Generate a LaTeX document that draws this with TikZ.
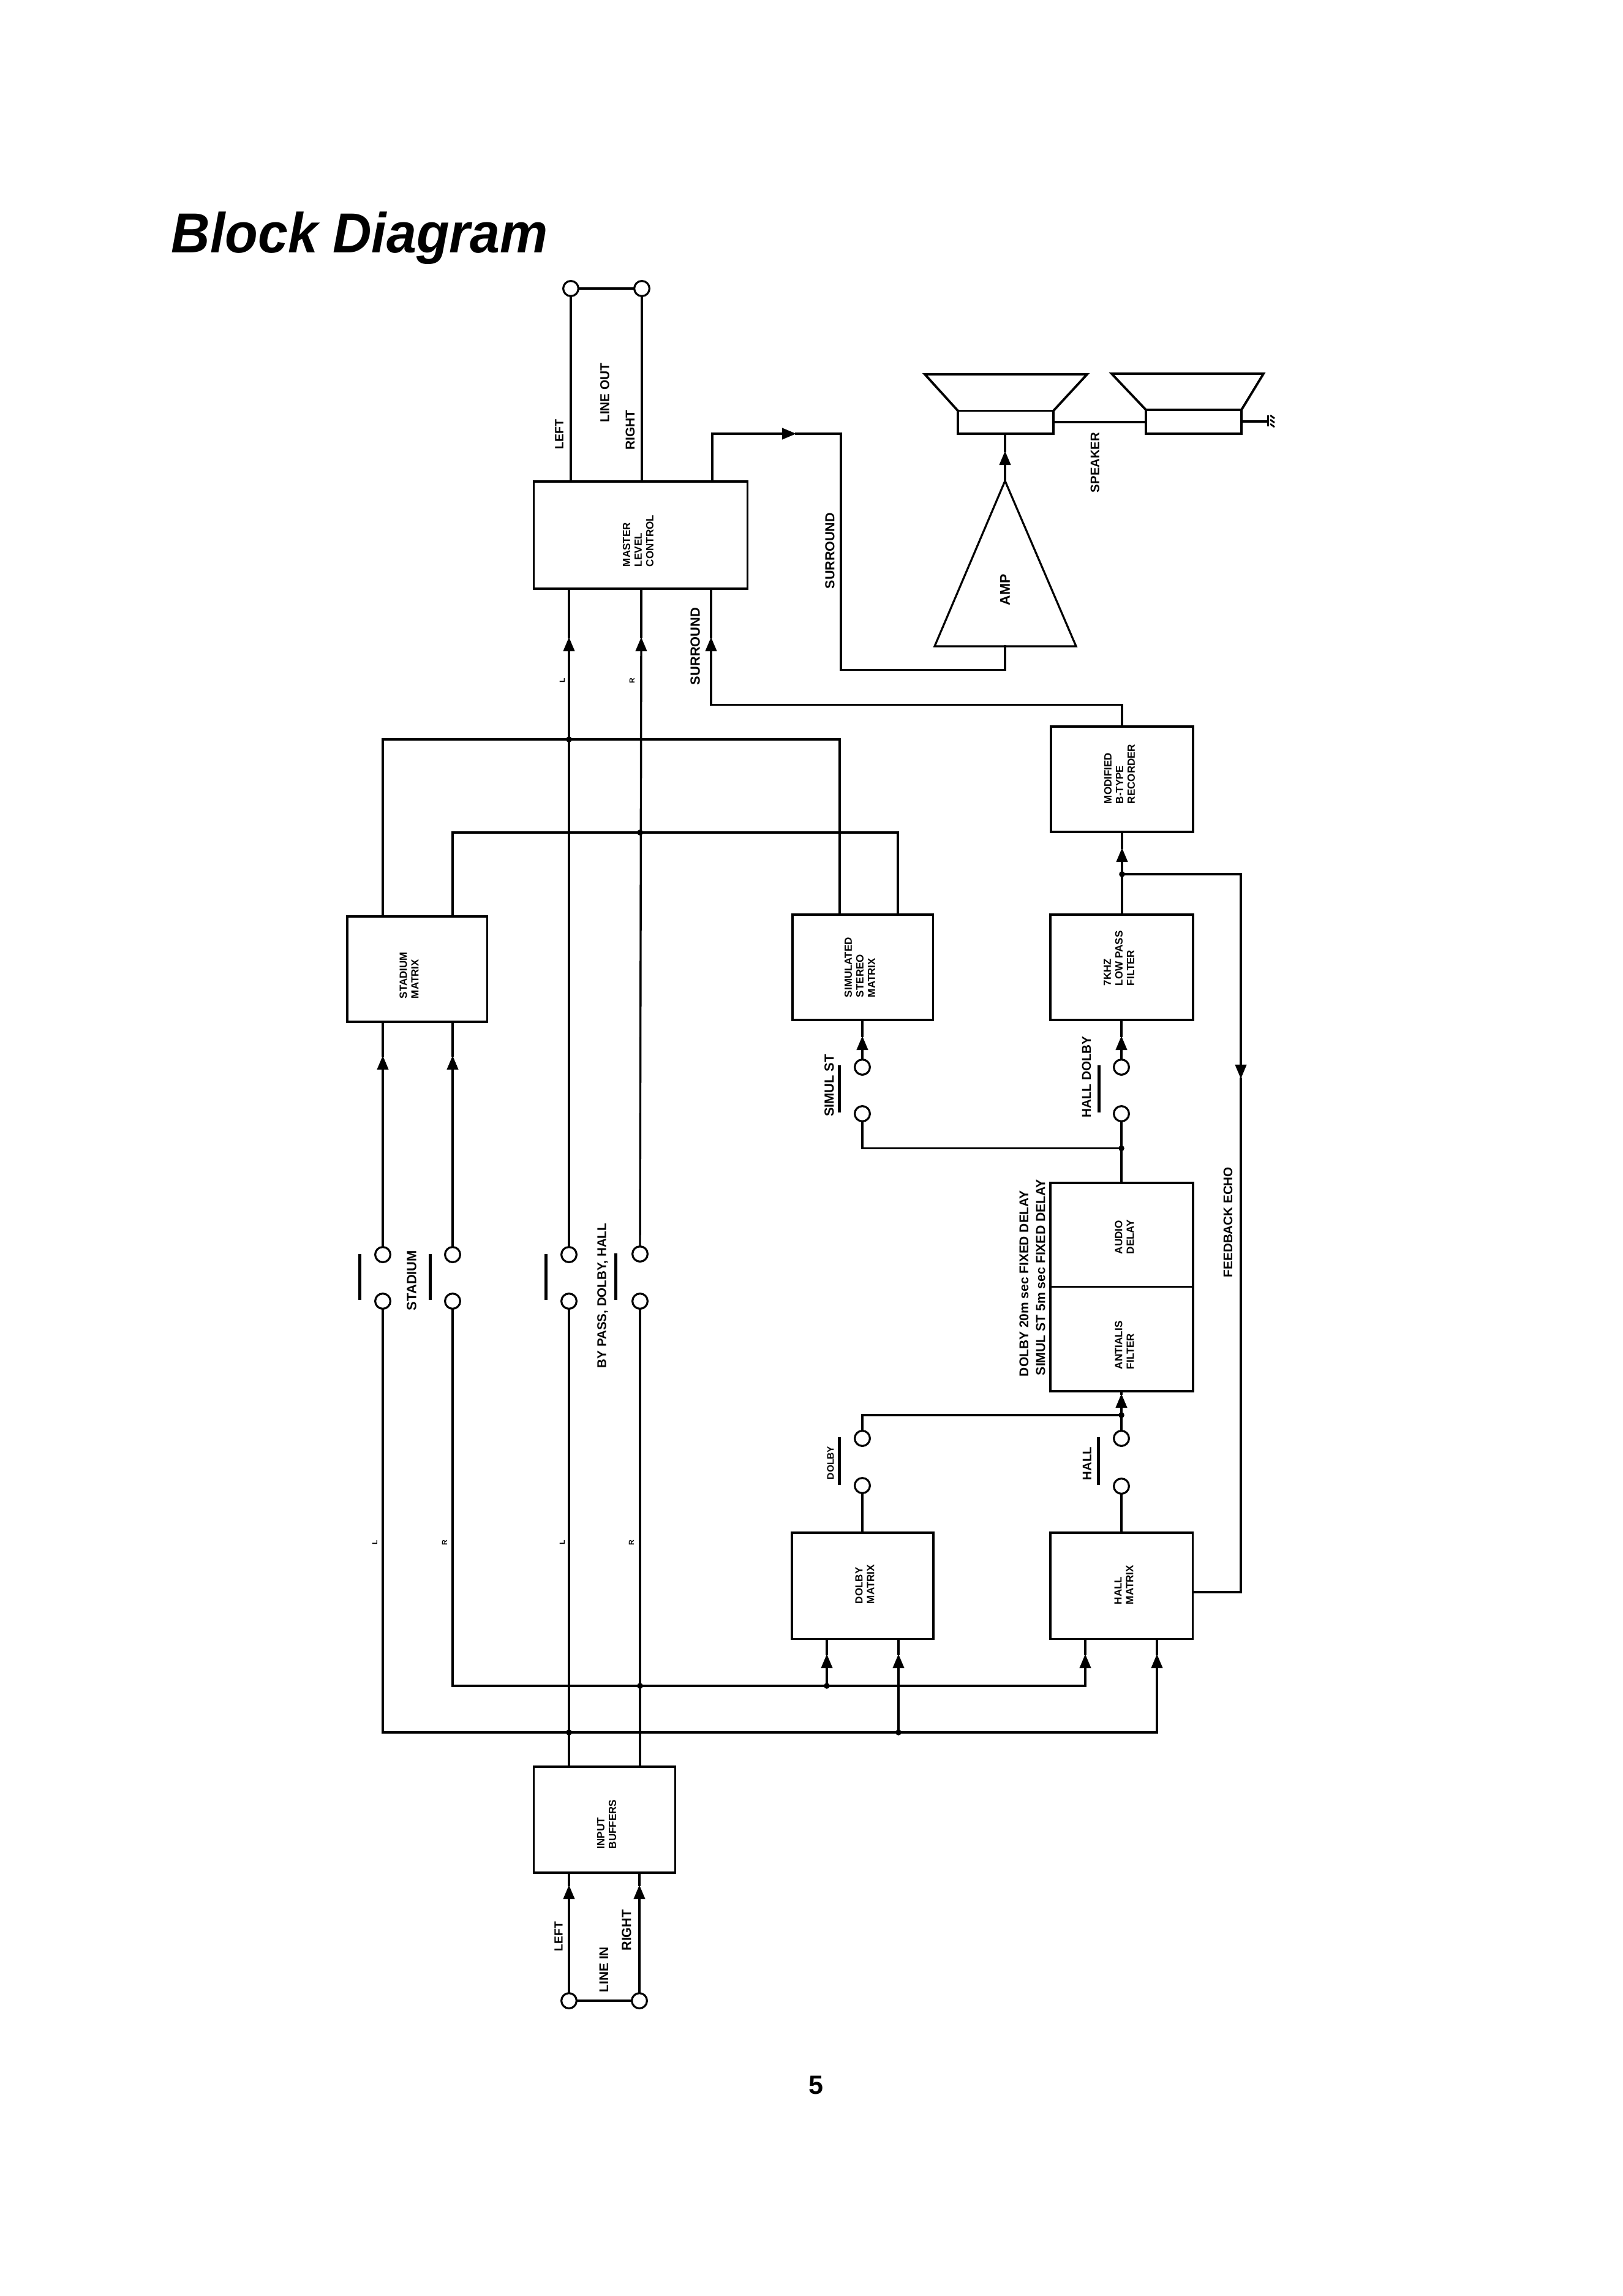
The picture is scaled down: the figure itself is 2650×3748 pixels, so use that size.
\documentclass[tikz,border=0pt]{standalone}
\usepackage{fontspec}
\setmainfont{Liberation Sans}
\usetikzlibrary{arrows.meta}
\newlength\pxu \setlength\pxu{0.25pt}
\tikzset{
  wire/.style={line width=0.85pt,line cap=rect,line join=miter},
  arw/.style={wire,-{Triangle[length=5.8pt,width=4.6pt]}},
  thickwire/.style={line width=1.1pt},
  boxn/.style={draw,line width=0.95pt,rectangle,inner sep=0pt,outer sep=0pt},
  termc/.style={draw,line width=0.8pt,circle,fill=white,inner sep=0pt,outer sep=0pt,minimum size=6.2pt},
  swbar/.style={line width=1.25pt},
  lab/.style={rotate=90,inner sep=0pt,outer sep=0pt,font=\bfseries},
  tiny lab/.style={rotate=90,inner sep=0pt,outer sep=0pt,font=\fontsize{3pt}{3pt}\selectfont\bfseries},
  boxt/.style={rotate=90,anchor=west,align=left,inner sep=0pt,outer sep=0pt,font=\fontsize{4.25pt}{4.75pt}\selectfont\bfseries},
  jdot/.style={circle,fill=black,inner sep=0pt,outer sep=0pt,minimum size=2.4pt}
}
\newcommand\bx[5]{%
  \pgfmathsetmacro\bxcx{(#2+#4)/2}\pgfmathsetmacro\bxcy{(#3+#5)/2}%
  \pgfmathsetmacro\bxw{(#4-#2)*.25}\pgfmathsetmacro\bxh{(#5-#3)*.25}%
  \node[boxn,minimum width=\bxw pt,minimum height=\bxh pt] (#1) at (\bxcx,\bxcy) {};}
\newcommand\lb[5]{\node[lab] (#1) at (#2,#3) {\resizebox{#4\pxu}{!}{#5}};}
\begin{document}
\begin{tikzpicture}[x=0.25pt,y=-0.25pt]
\useasboundingbox (0,0) rectangle (2650,3748);
% title and page number
\node[anchor=base west,inner sep=0pt,font=\fontsize{23pt}{23pt}\selectfont\bfseries\itshape] (title) at (279,412) {\scalebox{0.955}[1]{Block Diagram}};
\node[inner sep=0pt,font=\fontsize{10.75pt}{11pt}\selectfont\bfseries] (page) at (1332,3403.5) {5};
% boxes
\bx{mlc}{871.5}{786}{1220.5}{961}
\bx{rec}{1716}{1186}{1948}{1358}
\bx{st}{567}{1496}{795.5}{1668}
\bx{sim}{1294}{1493}{1523.5}{1665}
\bx{lp}{1715}{1493}{1948}{1665}
\bx{delay}{1715}{1931}{1948}{2100.5}
\bx{anti}{1715}{2100.5}{1948}{2271}
\bx{dm}{1293}{2502}{1524}{2675.5}
\bx{hm}{1715}{2502}{1947.5}{2675.5}
\bx{inbuf}{871.5}{2884}{1102.5}{3057}
\bx{spa}{1564}{670.5}{1720}{708}
\bx{spb}{1871}{669}{2027}{708}
% box texts
\node[boxt] (tmlc) at (1042,925) {MASTER\\LEVEL\\CONTROL};
\node[boxt] (trec) at (1828,1312) {MODIFIED\\B-TYPE\\RECORDER};
\node[boxt] (tsim) at (1404,1628) {SIMULATED\\STEREO\\MATRIX};
\node[boxt] (tlp) at (1827,1609) {7KHZ\\LOW PASS\\FILTER};
\node[boxt] (tdel) at (1836,2047) {AUDIO\\DELAY};
\node[boxt] (tant) at (1836,2235) {ANTIALIS\\FILTER};
\node[boxt] (tdm) at (1412,2618) {DOLBY\\MATRIX};
\node[boxt] (thm) at (1835,2619) {HALL\\MATRIX};
\node[boxt] (tst) at (668,1630) {STADIUM\\MATRIX};
\node[boxt] (tin) at (990.5,3018) {INPUT\\BUFFERS};
% terminals
\node[termc] (outL) at (932,471) {};
\node[termc] (outR) at (1048,471) {};
\node[termc] (inL) at (929,3266) {};
\node[termc] (inR) at (1044,3266) {};
\node[termc] (swAu) at (625,2048) {};
\node[termc] (swAd) at (625,2124) {};
\node[termc] (swBu) at (739,2048) {};
\node[termc] (swBd) at (739,2124) {};
\node[termc] (swCu) at (929,2048) {};
\node[termc] (swCd) at (929,2124) {};
\node[termc] (swDu) at (1045,2047) {};
\node[termc] (swDd) at (1045,2124) {};
\node[termc] (swEu) at (1408,1742) {};
\node[termc] (swEd) at (1408,1818) {};
\node[termc] (swFu) at (1831,1742) {};
\node[termc] (swFd) at (1831,1818) {};
\node[termc] (swGu) at (1408,2348) {};
\node[termc] (swGd) at (1408,2425) {};
\node[termc] (swHu) at (1831,2348) {};
\node[termc] (swHd) at (1831,2426) {};
% arrow tips and bends
\coordinate (tL) at (929,1040);
\coordinate (tR) at (1047,1040);
\coordinate (tS) at (1161,1040);
\coordinate (bS) at (1161,1150.5);
\coordinate (tO) at (1300,708);
\coordinate (tAmp) at (1641,736);
\coordinate (tRec) at (1832,1384);
\coordinate (tFb) at (2026,1761);
\coordinate (tLp) at (1831,1691);
\coordinate (tSim) at (1408,1691);
\coordinate (tDel) at (1831,2275);
\coordinate (tStA) at (625,1723);
\coordinate (tStB) at (739,1723);
\coordinate (tDmA) at (1350,2700);
\coordinate (tDmB) at (1467,2700);
\coordinate (tHmA) at (1772,2700);
\coordinate (tHmB) at (1889,2700);
\coordinate (tInL) at (929,3077);
\coordinate (tInR) at (1044,3077);
\coordinate (busL) at (625,2828);
\coordinate (busR) at (739,2752);
\coordinate (topA) at (625,1207);
\coordinate (topB) at (739,1359);
\coordinate (ampL) at (1526,1055);
\coordinate (ampR) at (1757,1055);
\coordinate (ampT) at (1641,785);
\coordinate (ampB) at (1641,1055);
% output
\draw[thickwire] (outL) -- (outR);
\draw[wire] (outL.south) -- (outL.south |- mlc.north);
\draw[wire] (outR.south) -- (outR.south |- mlc.north);
% into master
\draw[arw] (swCu.north) -- (tL);
\draw[wire] (tL) -- (tL |- mlc.south);
\draw[arw] (swDu.north) -- (tR);
\draw[wire] (tR) -- (tR |- mlc.south);
\draw[arw] (1832,1186) -- (1832,1150.5) -- (bS) -- (tS);
\draw[wire] (tS) -- (tS |- mlc.south);
% surround out
\draw[arw] (1163,786) -- (1163,708) -- (tO);
\draw[wire] (tO) -- (1373,708) -- (1373,1093.5) -- (1641,1093.5) -- (ampB);
\draw[line width=0.8pt,line join=miter] (ampL) -- (ampT) -- (ampR) -- cycle;
\draw[arw] (ampT) -- (tAmp);
\draw[wire] (tAmp) -- (tAmp |- spa.south);
% speakers
\draw[line width=0.95pt,line join=miter] (spa.north west) -- (1510,611) -- (1775,611) -- (spa.north east);
\draw[line width=0.95pt,line join=miter] (spb.north west) -- (1815,610) -- (2063,610) -- (spb.north east);
\draw[wire] (spa.east |- 0,689) -- (spb.west |- 0,689);
\coordinate (gnd) at (2070,688);
\draw[wire] (spb.east |- gnd) -- (gnd);
\draw[line width=0.75pt] (2070,678) -- (2070,696);
\draw[line width=0.7pt] (2074,678) -- (2081,683) (2074,685) -- (2081,690) (2074,692) -- (2081,697);
% recorder chain
\draw[wire] (lp.north -| tRec) -- (1832,1427);
\draw[arw] (1832,1427) -- (tRec);
\draw[wire] (tRec) -- (tRec |- rec.south);
\draw[arw] (1832,1427) -- (2026,1427) -- (tFb);
\draw[wire] (tFb) -- (2026,2599) -- (hm.east |- 0,2599);
\node[jdot] (j1) at (1832,1427) {};
% switches to filters
\draw[arw] (swFu.north) -- (tLp);
\draw[wire] (tLp) -- (tLp |- lp.south);
\draw[arw] (swEu.north) -- (tSim);
\draw[wire] (tSim) -- (tSim |- sim.south);
\draw[wire] (swEd.south) -- (1408,1874.5) -- (1831,1874.5);
\draw[wire] (swFd.south) -- (swFd.south |- delay.north);
\node[jdot] (j2) at (1831,1874.5) {};
\draw[arw] (swHu.north) -- (tDel);
\draw[wire] (tDel) -- (tDel |- anti.south);
\draw[wire] (swGu.north) -- (1408,2310) -- (1831,2310);
\node[jdot] (j3) at (1831,2310) {};
\draw[wire] (swGd.south) -- (swGd.south |- dm.north);
\draw[wire] (swHd.south) -- (swHd.south |- hm.north);
% stadium
\draw[arw] (swAu.north) -- (tStA);
\draw[wire] (tStA) -- (tStA |- st.south);
\draw[arw] (swBu.north) -- (tStB);
\draw[wire] (tStB) -- (tStB |- st.south);
\draw[wire] (topA |- st.north) -- (topA) -- (1371,1207) -- (1371,1493);
\draw[wire] (topB |- st.north) -- (topB) -- (1466,1359) -- (1466,1493);
\node[jdot] (j4) at (929,1207) {};
\node[jdot] (j5) at (1045,1359) {};
\node[jdot,minimum size=1.5pt] (j6) at (1371,1359) {};
% input
\draw[thickwire] (inL) -- (inR);
\draw[arw] (inL.north) -- (tInL);
\draw[wire] (tInL) -- (tInL |- inbuf.south);
\draw[arw] (inR.north) -- (tInR);
\draw[wire] (tInR) -- (tInR |- inbuf.south);
\draw[wire] (swCd.south) -- (swCd.south |- inbuf.north);
\draw[wire] (swDd.south) -- (swDd.south |- inbuf.north);
% buses
\draw[wire] (swAd.south) -- (busL) -- (1889,2828);
\draw[wire] (swBd.south) -- (busR) -- (1772,2752);
\draw[arw] (1889,2828) -- (tHmB);
\draw[wire] (tHmB) -- (tHmB |- hm.south);
\draw[arw] (1772,2752) -- (tHmA);
\draw[wire] (tHmA) -- (tHmA |- hm.south);
\draw[arw] (1467,2828) -- (tDmB);
\draw[wire] (tDmB) -- (tDmB |- dm.south);
\draw[arw] (1350,2752) -- (tDmA);
\draw[wire] (tDmA) -- (tDmA |- dm.south);
\node[jdot] (j7) at (929,2828) {};
\node[jdot] (j8) at (1467,2828) {};
\node[jdot] (j9) at (1045,2752) {};
\node[jdot] (j10) at (1350,2752) {};
% switch bars
\draw[swbar] (587.5,2047) -- (587.5,2122);
\draw[swbar] (702,2047) -- (702,2122);
\draw[swbar] (891.5,2047) -- (891.5,2122);
\draw[swbar] (1005,2046) -- (1005,2122);
\draw[swbar] (1370,1739) -- (1370,1816);
\draw[swbar] (1794,1739) -- (1794,1816);
\draw[swbar] (1370,2346) -- (1370,2424);
\draw[swbar] (1793,2346) -- (1793,2424);
% labels
\lb{lbA}{913}{709}{49}{LEFT}
\lb{lbB}{987.5}{641}{97}{LINE OUT}
\lb{lbC}{1029}{702}{65}{RIGHT}
\lb{lbD}{1355}{899}{124}{SURROUND}
\lb{lbE}{1788}{755}{98}{SPEAKER}
\lb{lbF}{1641}{963}{51}{AMP}
\lb{lbG}{1135}{1055}{126}{SURROUND}
\lb{lbH}{1774}{1758}{133}{HALL DOLBY}
\lb{lbI}{1354}{1772}{101}{SIMUL ST}
\lb{lbJ}{1356}{2388}{54}{DOLBY}
\lb{lbK}{1775}{2389}{54}{HALL}
\lb{lbL}{1672}{2095}{304}{DOLBY 20m sec FIXED DELAY}
\lb{lbM}{1699}{2085}{320}{SIMUL ST 5m sec FIXED DELAY}
\lb{lbN}{2005}{1995}{180}{FEEDBACK ECHO}
\lb{lbO}{672}{2090}{98}{STADIUM}
\lb{lbP}{984}{2115}{236}{BY PASS, DOLBY, HALL}
\lb{lbQ}{912}{3161}{48}{LEFT}
\lb{lbR}{986}{3215}{74}{LINE IN}
\lb{lbS}{1023}{3151}{67}{RIGHT}
\node[tiny lab] (sa) at (918,1111) {L};
\node[tiny lab] (sb) at (1032,1111) {R};
\node[tiny lab] (sc) at (612,2518) {L};
\node[tiny lab] (sd) at (726,2518) {R};
\node[tiny lab] (se) at (918,2518) {L};
\node[tiny lab] (sf) at (1031,2518) {R};
\end{tikzpicture}
\end{document}
